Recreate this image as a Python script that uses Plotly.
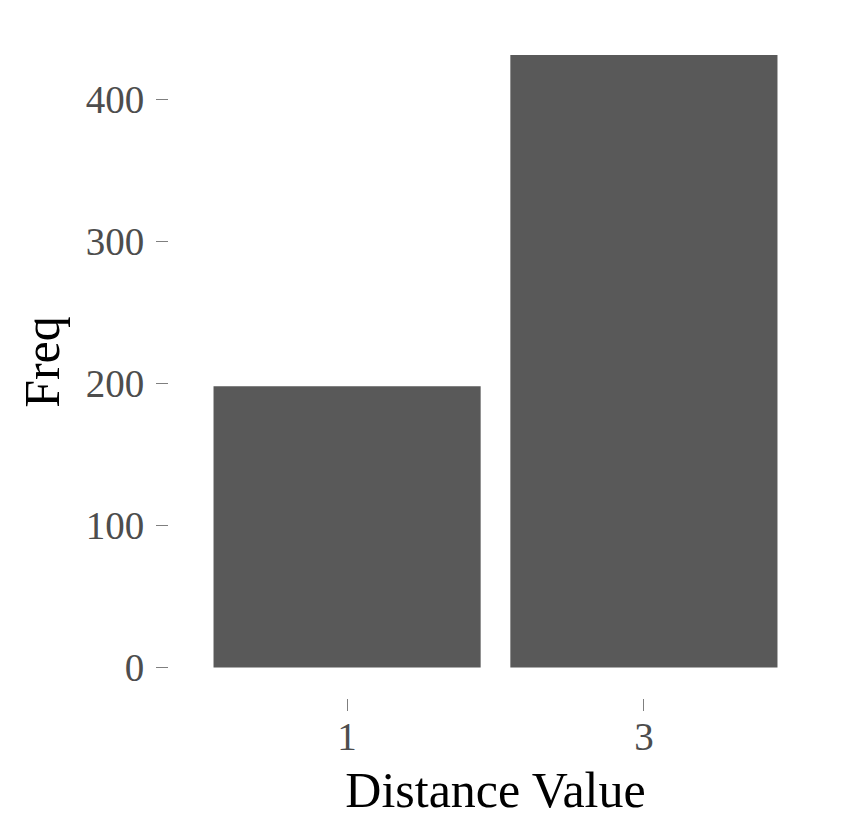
import plotly.graph_objects as go

categories = ["1", "3"]
freq = [198, 431]

fig = go.Figure()
fig.add_trace(go.Bar(x=categories, y=freq, marker_color="#595959",
                     marker_line_width=0))

FONT = "Liberation Serif"
fig.update_layout(
    width=840, height=823,
    margin=dict(l=161, r=26, t=18, b=133),
    plot_bgcolor="white", paper_bgcolor="white",
    bargap=0.1,
    showlegend=False,
    font=dict(family=FONT, color="#4D4D4D"),
)
fig.update_xaxes(
    type="category", range=[-0.6, 1.6],
    showgrid=False, zeroline=False, showline=False,
    ticks="outside", ticklen=12, tickwidth=1, tickcolor="#7F7F7F",
    ticklabelstandoff=-8,
    tickfont=dict(family=FONT, size=39, color="#4D4D4D"),
    title=dict(text="Distance Value", font=dict(family=FONT, size=50, color="black"), standoff=15),
)
fig.update_yaxes(
    range=[-21.5, 451.5], tickvals=[0, 100, 200, 300, 400],
    showgrid=False, zeroline=False, showline=False,
    ticks="outside", ticklen=12, tickwidth=1, tickcolor="#7F7F7F",
    ticklabelstandoff=4,
    tickfont=dict(family=FONT, size=39, color="#4D4D4D"),
    title=dict(text="Freq", font=dict(family=FONT, size=50, color="black"), standoff=10),
)
fig.write_html("out.html")
